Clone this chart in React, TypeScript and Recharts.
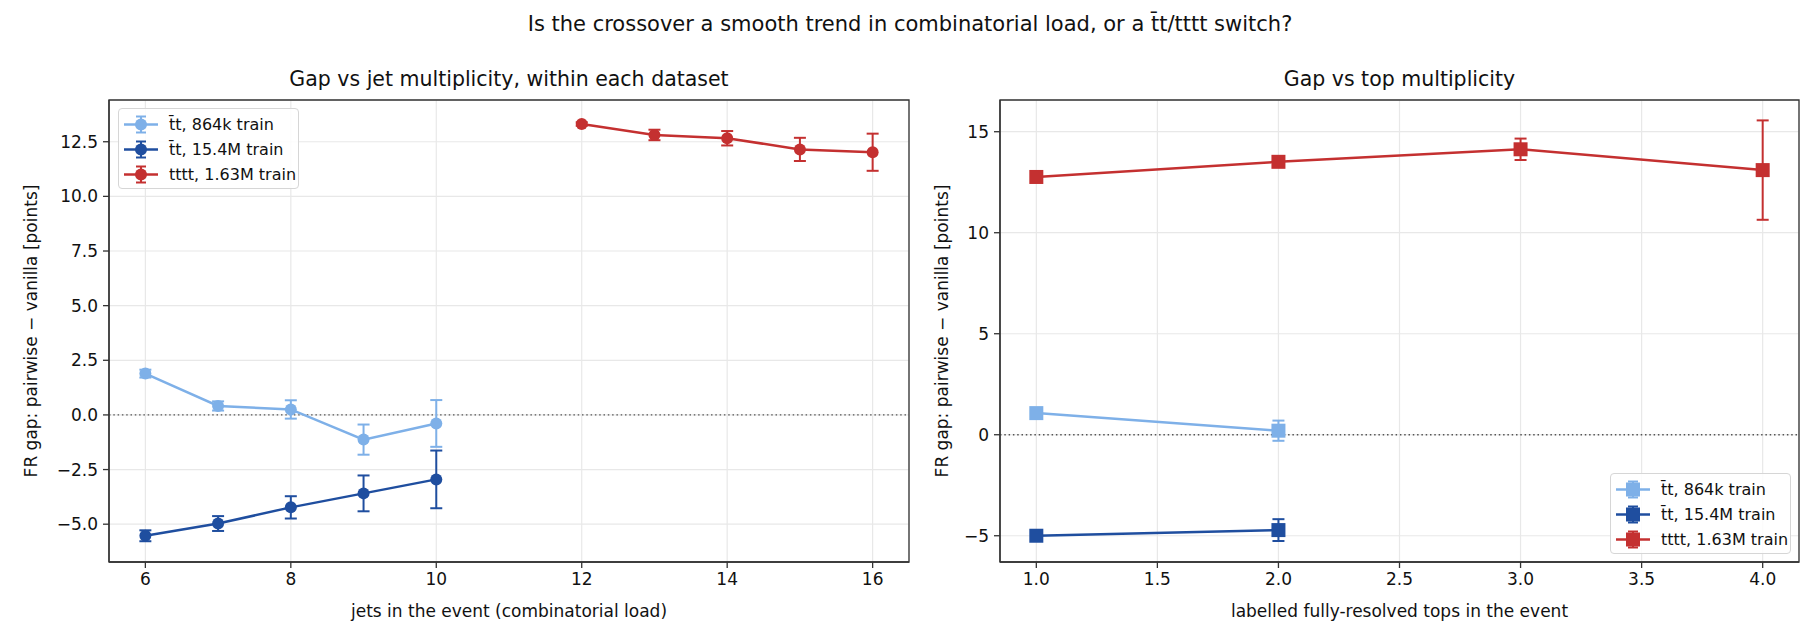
import React from "react";
import {
  LineChart,
  Line,
  XAxis,
  YAxis,
  CartesianGrid,
  ErrorBar,
  ReferenceLine,
  ReferenceArea,
} from "recharts";

// left panel: gap vs number of jets
const jetsTtbar = [6, 7, 8, 9, 10];
const jetsTttt = [12, 13, 14, 15, 16];
const gapTt864kByJets = [1.89, 0.41, 0.25, -1.13, -0.39];
const errTt864kByJets = [0.18, 0.21, 0.42, 0.69, 1.07];
const gapTt15MByJets = [-5.53, -4.97, -4.23, -3.59, -2.95];
const errTt15MByJets = [0.25, 0.34, 0.51, 0.82, 1.32];
const gapTtttByJets = [13.31, 12.81, 12.66, 12.15, 12.02];
const errTtttByJets = [0.08, 0.24, 0.33, 0.53, 0.85];

// right panel: gap vs number of labelled tops
const topsTtbar = [1, 2];
const topsTttt = [1, 2, 3, 4];
const gapTt864kByTops = [1.07, 0.2];
const errTt864kByTops = [0.15, 0.5];
const gapTt15MByTops = [-5.0, -4.72];
const errTt15MByTops = [0.15, 0.54];
const gapTtttByTops = [12.76, 13.51, 14.13, 13.1];
const errTtttByTops = [0.12, 0.12, 0.53, 2.46];

const leftXTicks = [6, 8, 10, 12, 14, 16];
const leftYTicks = [-5, -2.5, 0, 2.5, 5, 7.5, 10, 12.5];
const rightXTicks = [1, 1.5, 2, 2.5, 3, 3.5, 4];
const rightYTicks = [-5, 0, 5, 10, 15];

const seriesNames = ["t\u0304t, 864k train", "t\u0304t, 15.4M train", "tttt, 1.63M train"];
const suptitle = "Is the crossover a smooth trend in combinatorial load, or a t\u0304t/tttt switch?";

const LIGHT = "#7eb0e8";
const DARK = "#1f4e9f";
const RED = "#c43030";
const FONT = "'DejaVu Sans', sans-serif";
const COLORS = [LIGHT, DARK, RED];

const toRows = (xs: number[], ys: number[], es: number[]) =>
  xs.map((x, i) => ({ x, y: ys[i], err: es[i] }));

const minus = (s: string) => s.replace("-", "\u2212");

const squareDot = (color: string) => (props: any) => {
  const { cx, cy, index } = props;
  if (cx == null || cy == null) return <g key={`e-${index}`} />;
  return <rect key={`sq-${index}`} x={cx - 7} y={cy - 7} width={14} height={14} fill={color} />;
};

function series(rows: any[], color: string, square: boolean, key: string) {
  return (
    <Line
      key={key}
      data={rows}
      dataKey="y"
      stroke={color}
      strokeWidth={2.5}
      dot={square ? squareDot(color) : { r: 6, fill: color, stroke: color, strokeWidth: 0 }}
      activeDot={false}
      isAnimationActive={false}
    >
      <ErrorBar dataKey="err" direction="y" width={6} stroke={color} strokeWidth={2} />
    </Line>
  );
}

function LegendBox({ left, top, square }: { left: number; top: number; square: boolean }) {
  return (
    <div
      style={{
        position: "absolute",
        left,
        top,
        width: 181,
        height: 81,
        boxSizing: "border-box",
        border: "1px solid #d6d6d6",
        borderRadius: 4,
        background: "rgba(255,255,255,0.85)",
        paddingTop: 3,
      }}
    >
      {seriesNames.map((name, i) => (
        <div key={name} style={{ height: 25, display: "flex", alignItems: "center" }}>
          <svg width={46} height={25} style={{ flex: "none" }}>
            <line x1={5} x2={39} y1={12.5} y2={12.5} stroke={COLORS[i]} strokeWidth={2.5} />
            <line x1={22} x2={22} y1={4.5} y2={20.5} stroke={COLORS[i]} strokeWidth={2} />
            <line x1={17} x2={27} y1={4.5} y2={4.5} stroke={COLORS[i]} strokeWidth={2} />
            <line x1={17} x2={27} y1={20.5} y2={20.5} stroke={COLORS[i]} strokeWidth={2} />
            {square ? (
              <rect x={15} y={5.5} width={14} height={14} fill={COLORS[i]} />
            ) : (
              <circle cx={22} cy={12.5} r={6} fill={COLORS[i]} />
            )}
          </svg>
          <span style={{ marginLeft: 4, fontSize: 16, color: "#111", whiteSpace: "nowrap" }}>{name}</span>
        </div>
      ))}
    </div>
  );
}

const abs = (style: React.CSSProperties): React.CSSProperties => ({ position: "absolute", ...style });

export default function App() {
  const tickStyle = { fontSize: 17, fill: "#111" };
  return (
    <div style={abs({ left: 0, top: 0, width: 1820, height: 644, background: "#fff", fontFamily: FONT, color: "#111" })}>
      <div style={abs({ left: 0, width: 1820, top: 12, textAlign: "center", fontSize: 21 })}>{suptitle}</div>
      <div style={abs({ left: 109, width: 800, top: 67, textAlign: "center", fontSize: 20.5 })}>
        Gap vs jet multiplicity, within each dataset
      </div>
      <div style={abs({ left: 1000, width: 799, top: 67, textAlign: "center", fontSize: 20.5 })}>
        Gap vs top multiplicity
      </div>

      <div style={abs({ left: 0, top: 0 })}>
        <LineChart width={920} height={644} margin={{ top: 100, right: 11, bottom: 32, left: 49 }}>
          <CartesianGrid stroke="#e8e8e8" strokeWidth={1.2} />
          <XAxis
            type="number"
            dataKey="x"
            domain={[5.5, 16.5]}
            ticks={leftXTicks}
            allowDataOverflow
            height={50}
            tick={tickStyle}
            tickSize={6}
            tickMargin={5}
            stroke="#333"
            strokeWidth={1.3}
          />
          <YAxis
            type="number"
            domain={[-6.73, 14.41]}
            ticks={leftYTicks}
            allowDataOverflow
            width={60}
            tick={tickStyle}
            tickSize={6}
            tickMargin={5}
            tickFormatter={(v: number) => minus(v.toFixed(1))}
            stroke="#333"
            strokeWidth={1.3}
          />
          <ReferenceArea x1={5.5} x2={16.5} y1={-6.73} y2={14.41} fill="none" stroke="#333" strokeWidth={1.3} ifOverflow="visible" />
          <ReferenceLine y={0} stroke="#555" strokeWidth={1.3} strokeDasharray="1.5 2.8" />
          {series(toRows(jetsTtbar, gapTt864kByJets, errTt864kByJets), LIGHT, false, "l1")}
          {series(toRows(jetsTtbar, gapTt15MByJets, errTt15MByJets), DARK, false, "l2")}
          {series(toRows(jetsTttt, gapTtttByJets, errTtttByJets), RED, false, "l3")}
        </LineChart>
      </div>

      <div style={abs({ left: 900, top: 0 })}>
        <LineChart width={920} height={644} margin={{ top: 100, right: 21, bottom: 32, left: 40 }}>
          <CartesianGrid stroke="#e8e8e8" strokeWidth={1.2} />
          <XAxis
            type="number"
            dataKey="x"
            domain={[0.85, 4.15]}
            ticks={rightXTicks}
            allowDataOverflow
            height={50}
            tick={tickStyle}
            tickSize={6}
            tickMargin={5}
            tickFormatter={(v: number) => v.toFixed(1)}
            stroke="#333"
            strokeWidth={1.3}
          />
          <YAxis
            type="number"
            domain={[-6.3, 16.57]}
            ticks={rightYTicks}
            allowDataOverflow
            width={60}
            tick={tickStyle}
            tickSize={6}
            tickMargin={5}
            tickFormatter={(v: number) => minus(String(v))}
            stroke="#333"
            strokeWidth={1.3}
          />
          <ReferenceArea x1={0.85} x2={4.15} y1={-6.3} y2={16.57} fill="none" stroke="#333" strokeWidth={1.3} ifOverflow="visible" />
          <ReferenceLine y={0} stroke="#555" strokeWidth={1.3} strokeDasharray="1.5 2.8" />
          {series(toRows(topsTtbar, gapTt864kByTops, errTt864kByTops), LIGHT, true, "r1")}
          {series(toRows(topsTtbar, gapTt15MByTops, errTt15MByTops), DARK, true, "r2")}
          {series(toRows(topsTttt, gapTtttByTops, errTtttByTops), RED, true, "r3")}
        </LineChart>
      </div>

      <div style={abs({ left: 109, width: 800, top: 601, textAlign: "center", fontSize: 17 })}>
        jets in the event (combinatorial load)
      </div>
      <div style={abs({ left: 1000, width: 799, top: 601, textAlign: "center", fontSize: 17 })}>
        labelled fully-resolved tops in the event
      </div>
      <div style={abs({ left: 31, top: 331, transform: "translate(-50%, -50%) rotate(-90deg)", fontSize: 17, whiteSpace: "nowrap" })}>
        FR gap: pairwise − vanilla [points]
      </div>
      <div style={abs({ left: 942, top: 331, transform: "translate(-50%, -50%) rotate(-90deg)", fontSize: 17, whiteSpace: "nowrap" })}>
        FR gap: pairwise − vanilla [points]
      </div>

      <LegendBox left={118} top={108} square={false} />
      <LegendBox left={1610} top={473} square={true} />
    </div>
  );
}
